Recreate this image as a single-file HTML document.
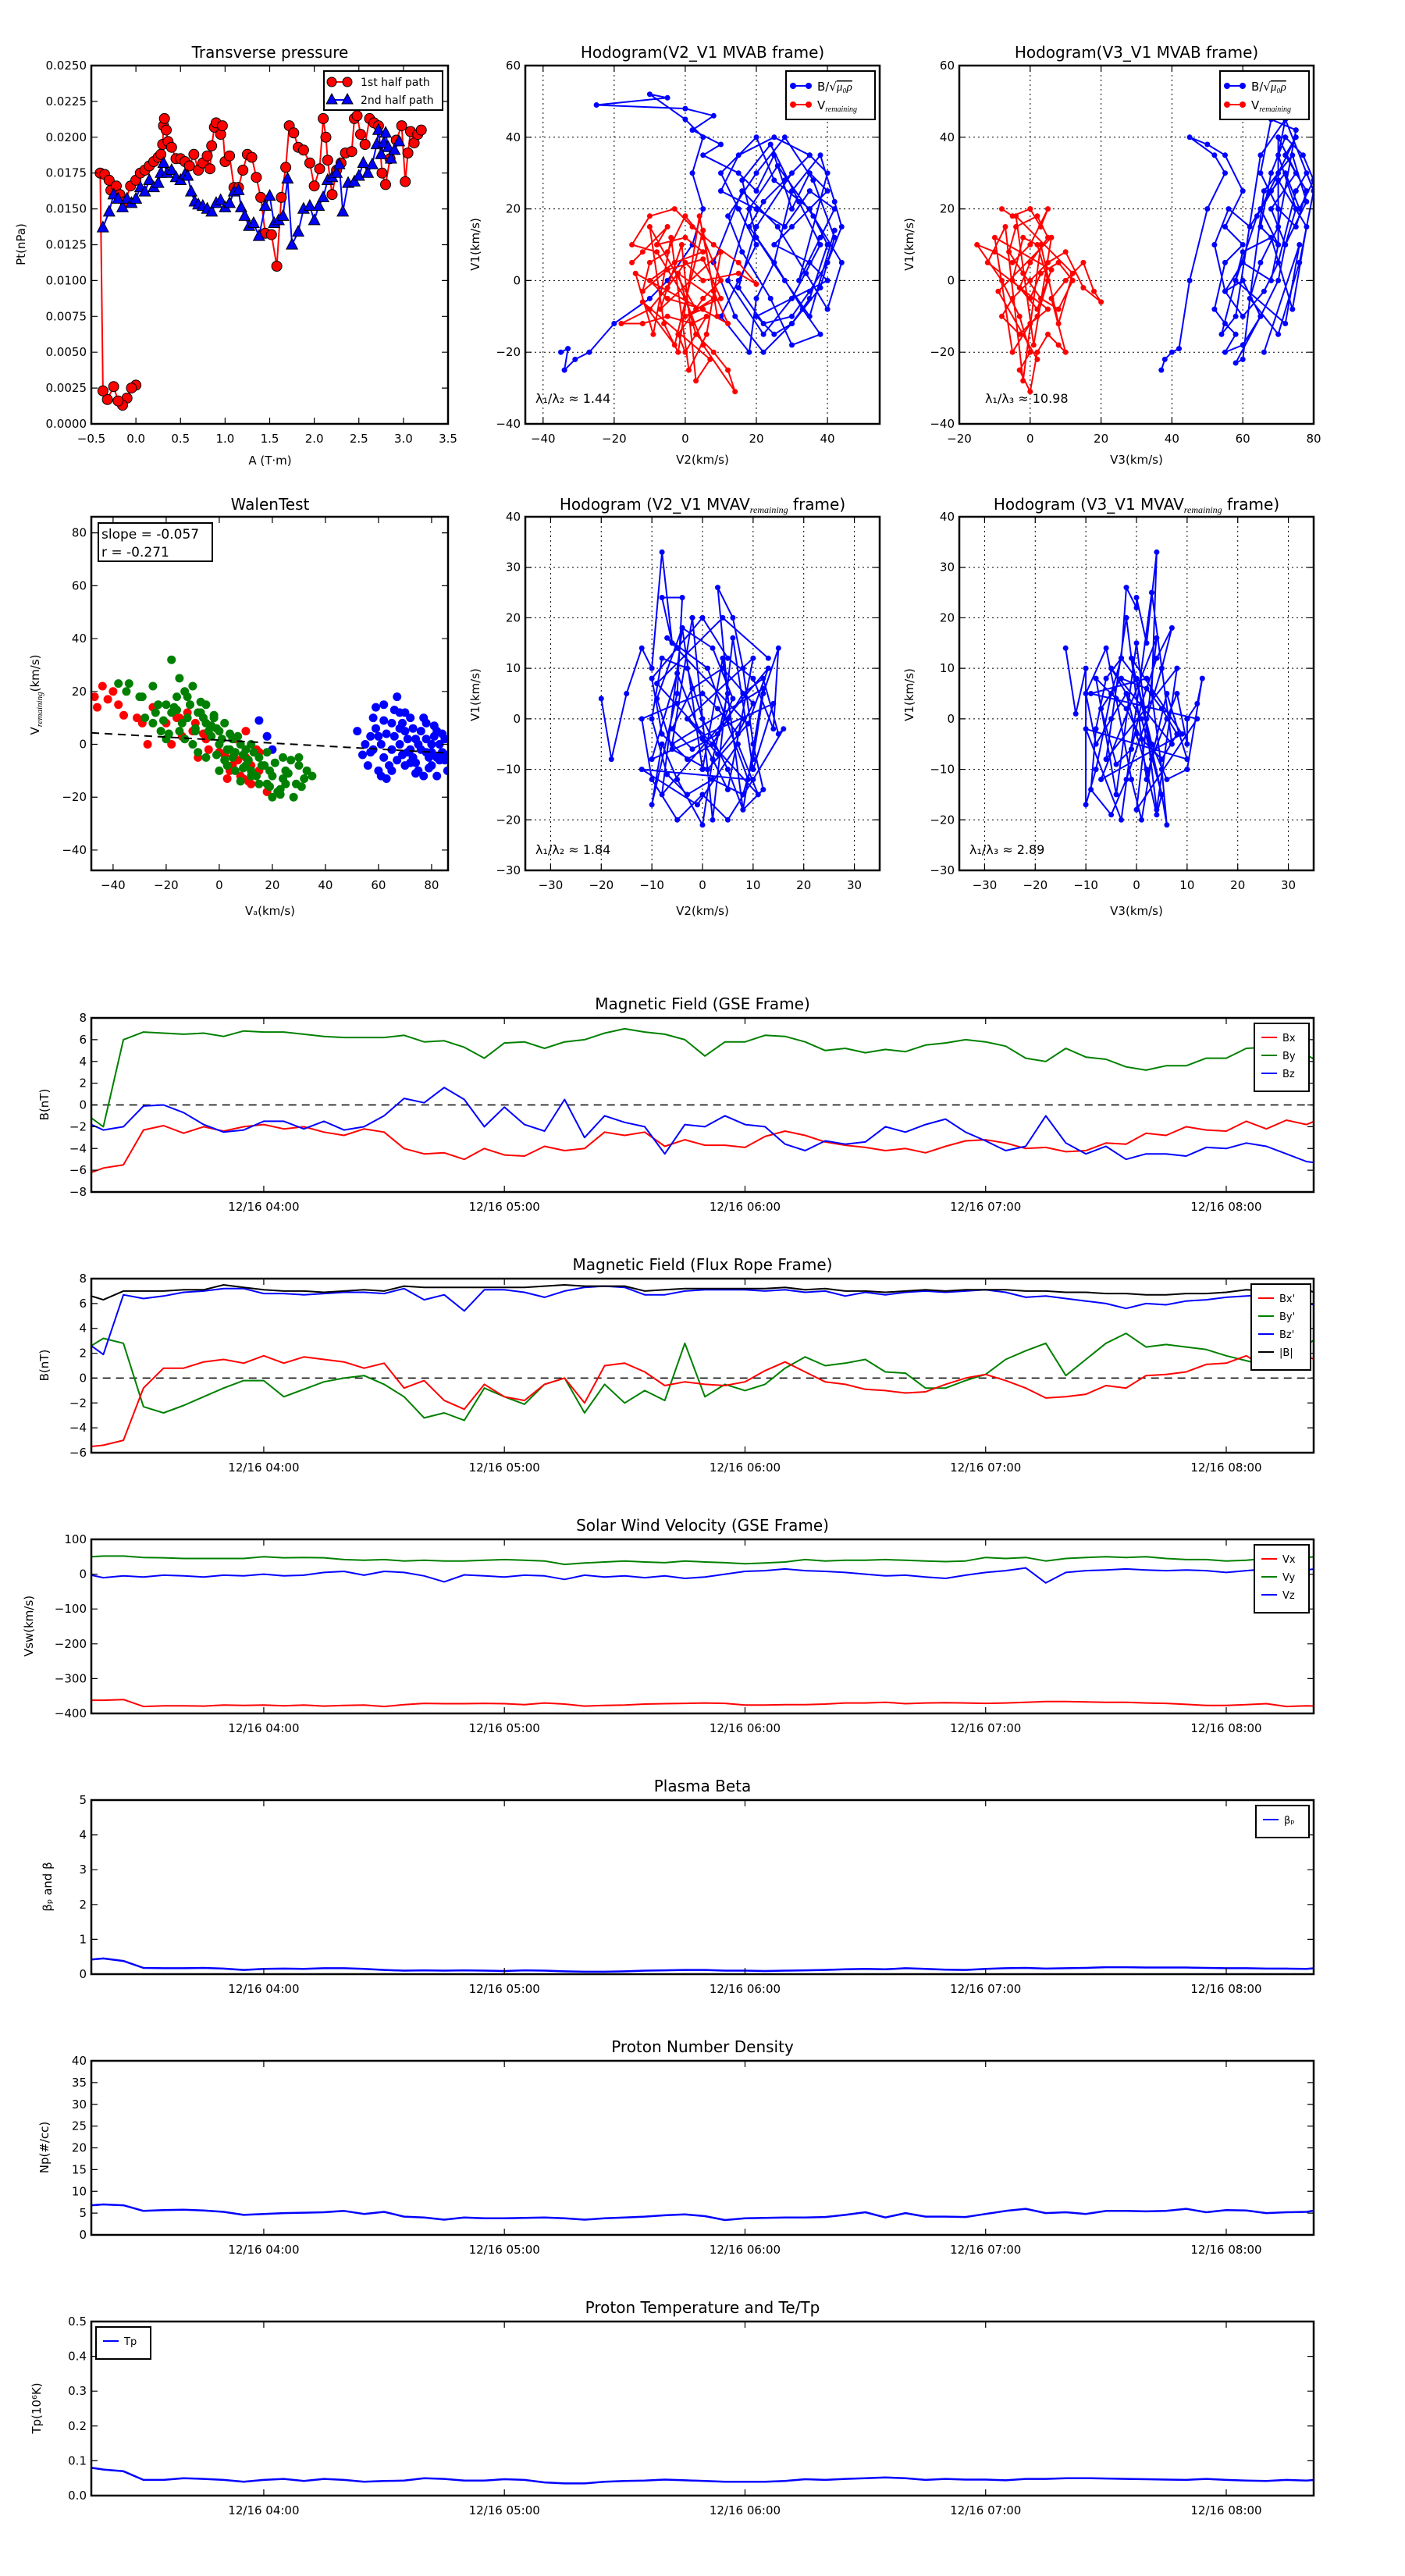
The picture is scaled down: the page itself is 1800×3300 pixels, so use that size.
<!DOCTYPE html>
<html><head><meta charset="utf-8">
<style>
html,body{margin:0;padding:0;background:#fff;}
svg{display:block;font-family:"DejaVu Sans","Liberation Sans",sans-serif;}
</style></head>
<body>
<svg id="fig" xmlns="http://www.w3.org/2000/svg" width="1800" height="3300" viewBox="0 0 1800 3300"></svg>
<script>
// ---------- Transverse pressure ----------
const ptRedA = [0.0,-0.05,-0.1,-0.15,-0.2,-0.25,-0.32,-0.37,-0.4,-0.35,-0.3,-0.28,-0.22,-0.18,-0.12,-0.06,0.0,0.05,0.1,0.15,0.2,0.25,0.28,0.3,0.31,0.32,0.34,0.36,0.4,0.45,0.5,0.55,0.6,0.65,0.7,0.75,0.8,0.83,0.85,0.88,0.9,0.95,0.97,1.0,1.05,1.1,1.15,1.2,1.25,1.3,1.35,1.4,1.45,1.52,1.58,1.63,1.68,1.72,1.77,1.82,1.88,1.95,2.0,2.06,2.1,2.13,2.15,2.2,2.25,2.3,2.35,2.42,2.45,2.48,2.52,2.57,2.62,2.67,2.72,2.76,2.8,2.85,2.92,2.98,3.02,3.05,3.08,3.12,3.16,3.2];
const ptRedP = [0.0027,0.0025,0.0018,0.0013,0.0016,0.0026,0.0017,0.0023,0.0175,0.0174,0.017,0.0163,0.0166,0.016,0.0155,0.0166,0.017,0.0175,0.0177,0.018,0.0183,0.0186,0.0188,0.0195,0.0208,0.0213,0.0205,0.0197,0.0193,0.0185,0.0185,0.0183,0.018,0.0188,0.0177,0.0182,0.0187,0.0178,0.0194,0.0207,0.021,0.0202,0.0208,0.0183,0.0187,0.0165,0.0165,0.0177,0.0188,0.0186,0.0172,0.0158,0.0133,0.0132,0.011,0.0158,0.0179,0.0208,0.0203,0.0193,0.0191,0.0182,0.0166,0.0178,0.0213,0.02,0.0184,0.016,0.0177,0.0182,0.0189,0.019,0.0213,0.0215,0.0202,0.0195,0.0213,0.021,0.0208,0.0175,0.0167,0.0185,0.0198,0.0208,0.0169,0.0189,0.0204,0.0196,0.0202,0.0205];
const ptBlueA = [-0.37,-0.3,-0.25,-0.2,-0.15,-0.1,-0.05,0.0,0.05,0.1,0.15,0.2,0.25,0.28,0.31,0.35,0.4,0.45,0.5,0.55,0.58,0.62,0.66,0.7,0.75,0.8,0.85,0.9,0.95,1.0,1.05,1.1,1.15,1.18,1.22,1.27,1.32,1.38,1.45,1.5,1.55,1.6,1.65,1.7,1.75,1.82,1.88,1.95,2.0,2.05,2.1,2.15,2.2,2.25,2.28,2.32,2.38,2.45,2.5,2.55,2.6,2.65,2.7,2.72,2.75,2.78,2.8,2.83,2.86,2.9,2.95];
const ptBlueP = [0.0137,0.0148,0.016,0.0157,0.0151,0.0157,0.0154,0.0157,0.0165,0.0162,0.017,0.0165,0.0168,0.0175,0.0182,0.0175,0.0177,0.0172,0.017,0.0174,0.0173,0.0162,0.0155,0.0153,0.0152,0.015,0.0148,0.0154,0.0156,0.0151,0.0154,0.0162,0.0163,0.0151,0.0145,0.0138,0.014,0.0131,0.0152,0.0159,0.014,0.0142,0.0145,0.0171,0.0125,0.0134,0.015,0.0152,0.0142,0.0152,0.0158,0.017,0.0172,0.0175,0.0181,0.0148,0.0168,0.0169,0.0173,0.0182,0.0175,0.0181,0.0195,0.0205,0.0188,0.0196,0.0203,0.0193,0.0185,0.0191,0.0197];

// ---------- Hodogram V2_V1 MVAB ----------
const h1BlueX = [-35,-33,-34,-31,-27,-20,-10,-5,2,5,2,5,0,-10,-5,-25,0,8,2,10,5,15,20,25,30,35,40,30,25,35,40,30,20,25,30,35,40,35,25,20,10,15,20,15,10,18,20,25,30,38,42,44,40,35,30,22,15,20,30,35,25,15,10,20,28,35,42,38,32,40,35,28,22,18,25,33,38,30,24,16,12,20,28,36,42,38,30,22,14,8,16,26,34,40,44,36,26,18,12,22,30,38,32,24,16,20,28,35,42];
const h1BlueY = [-20,-19,-25,-22,-20,-12,-5,0,10,20,30,40,45,52,51,49,48,46,42,38,35,30,25,35,20,30,25,15,10,5,0,-5,-10,-15,-12,-5,10,20,28,40,30,20,10,0,-10,-20,-5,5,25,35,22,15,5,-3,-10,-12,-2,15,30,35,40,35,25,20,15,25,20,12,0,30,35,28,22,15,5,-8,-15,-18,-5,8,18,30,40,28,12,-2,-12,-20,-10,5,25,15,2,-8,5,18,32,20,0,-15,-5,10,22,38,28,12,0,-10,14];
const h1RedX = [-15,-12,-5,-8,0,5,-3,-10,-5,5,0,8,-2,3,8,12,14,5,0,-8,-15,-10,-3,2,8,15,20,15,5,0,-5,-10,-18,-12,-5,2,6,0,-2,5,10,5,0,-5,-10,-12,-5,5,10,3,-10,-6,-2,4,8,12,-14,-9,-4,1,6,10,-7,-1,3,7,-12,-3,5,9];
const h1RedY = [5,8,15,10,12,8,5,0,-5,-8,-10,-5,2,-15,-20,-25,-31,-18,-5,8,10,18,20,15,10,5,-1,2,0,5,-2,-8,-12,-12,-10,-12,-10,-20,-15,-5,0,12,18,8,5,-3,3,6,-5,-8,15,-12,-20,18,-3,-12,2,-15,12,-25,-15,8,-8,10,-28,-22,-6,-18,14,-10];

// ---------- Hodogram V3_V1 MVAB ----------
const h2BlueX = [37,38,40,42,45,50,55,52,45,50,55,60,55,60,55,52,55,58,55,60,65,60,55,60,68,70,65,70,75,72,78,75,70,65,68,75,70,65,62,60,58,65,70,72,75,70,72,78,75,70,66,60,55,52,56,62,68,72,76,80,77,72,68,65,70,70,75,68,72,78,74,66,62,70,76,80,72,65,58,54,60,68,74,78,70,64,58,72,76,66];
const h2BlueY = [-25,-22,-20,-19,0,20,30,35,40,38,35,25,15,10,5,-8,-12,-15,-20,-18,-10,0,-3,5,0,10,20,30,40,35,25,15,20,30,45,42,15,5,-5,-22,-23,-10,0,10,20,35,45,30,25,5,-3,-10,-3,10,20,15,25,30,20,28,35,40,30,15,10,40,30,20,10,22,35,25,-5,-15,5,25,45,35,-10,-15,8,12,-8,15,28,18,0,-12,10,-20];
const h2RedX = [-8,-5,0,3,5,0,-5,-10,-15,-8,-3,0,-3,0,2,5,8,10,6,10,15,18,20,15,10,5,0,-5,-8,-3,2,5,2,-2,-5,0,3,8,12,8,3,-2,-6,-4,2,5,0,-3,2,6,-10,-5,0,5,-12,-7,-2,3,8,12,-4,1,6,-9,2];
const h2RedY = [20,18,20,15,20,10,5,8,10,0,-10,-20,-25,-31,-20,-15,-18,-20,-5,0,5,-3,-6,-2,8,5,0,-5,-10,-15,-10,0,10,12,0,-5,2,5,0,-8,-5,2,8,15,18,12,5,-2,-8,3,12,-20,-12,-8,5,15,-28,10,-12,2,18,-18,12,-3,-22];

// ---------- Walen test ----------
const walenSlope = -0.057;
const walenIntercept = 1.6;
const wRedX = [-47,-46,-44,-42,-40,-38,-36,-31,-29,-27,-20,-15,-10,-5,0,3,5,8,10,12,15,18,10,-25,-18,-8,14,-12,-3,7,-14,-9,-4,2,6,9,12,15,-16,-6,4,11];
const wRedY = [18,14,22,17,20,15,11,10,8,0,8,10,5,2,-3,-13,-8,-12,-5,-15,-10,-18,5,14,0,-5,-2,12,7,-6,3,8,-2,-4,2,-13,-8,-3,10,4,-10,-14];
const wGreenX = [-25,-20,-18,-15,-12,-10,-8,-5,-2,0,2,5,-22,-28,-15,-10,-5,0,5,10,15,20,25,30,35,28,22,18,12,8,3,-3,-12,-18,-30,-35,-8,0,6,15,25,30,20,10,-20,-25,-5,2,17,12,-38,-34,-29,-13,-7,4,9,23,27,32,-16,-2,-24,-21,-17,-14,-11,-9,-6,-4,-1,1,4,7,9,11,13,16,19,21,24,26,29,-19,-13,-7,-3,3,8,14,19,23,-23,-16,-9,-1,6,12,18,24,31,33];
const wGreenY = [22,15,32,25,18,22,12,15,10,5,8,2,5,10,5,0,-5,-10,-5,-8,-5,-12,-10,-8,-12,-20,-18,-15,-10,0,-2,3,10,12,18,20,-3,0,-3,-15,-15,-5,-20,-2,2,8,8,-6,-8,-12,23,23,18,20,16,4,-9,-17,-6,-13,13,11,12,9,14,8,15,6,10,5,6,2,-2,3,-4,-6,-3,-8,-10,-7,-13,-11,-15,4,2,12,7,-8,-14,-12,-16,-19,15,18,5,-4,-10,0,-3,-5,-16,-10];
const wBlueX = [52,55,58,60,62,62,65,65,67,68,70,70,72,72,74,75,76,78,78,80,80,82,82,84,85,86,60,57,63,68,73,77,66,71,79,83,64,69,74,81,85,59,61,75,15,18,20,54,56,59,61,63,66,67,69,71,73,76,77,79,81,83,84,86,58,62,65,70,74,78,82,57,68,72,80];
const wBlueY = [5,0,10,3,-5,15,8,-2,18,0,5,-8,10,-2,2,-10,5,-3,8,0,-8,-12,5,-3,2,-10,-10,-3,-13,12,-5,-12,3,2,-5,0,-8,-4,-7,3,-6,6,0,0,9,3,-2,-4,-8,14,-12,4,13,-6,8,-3,6,-2,10,-9,7,-6,4,-4,-2,9,-10,12,-11,2,-5,3,6,-7,-3];

// ---------- MVAV hodograms ----------
const h3X = [-20,-18,-15,-12,-10,-8,-6,-8,-4,-5,-10,-8,-5,0,2,5,3,6,8,10,12,8,5,0,-3,-8,-10,-7,-3,2,8,10,12,15,14,10,5,0,-5,-10,-8,-3,2,5,8,12,15,16,10,5,0,-5,-10,-12,-5,0,3,7,10,4,-2,-6,-2,3,6,2,-4,-9,-6,1,9,13,-8,-4,0,4,8,12,-6,-2,2,6,10,14,-10,-5,0,5,10,-3,3,8,-7,1,9,-12,-1,7,11,-9,4,13];
const h3Y = [4,-8,5,14,10,33,15,24,24,5,-17,-5,-12,-21,-8,5,26,20,10,-5,-14,-18,-10,0,10,12,0,-11,-15,-12,-15,-8,5,14,-2,8,12,20,14,8,-3,-8,-5,0,5,8,-3,-2,-12,-20,-15,-20,-12,0,3,5,2,-3,3,10,6,-2,-6,-3,4,14,18,4,-6,-10,-1,10,-15,18,-10,12,-18,6,-5,20,-20,16,-10,3,-8,9,-4,-14,12,0,-7,0,16,10,-12,-10,-17,-5,-15,7,20,12];
const h4X = [-14,-12,-10,-10,-8,-5,-3,-2,0,0,2,4,3,5,6,5,4,2,0,-2,-5,-8,-10,-6,-4,-1,1,3,6,8,10,10,12,13,10,6,3,0,-3,-6,-8,-9,-5,-2,2,5,7,4,1,-1,-4,-7,-3,2,5,8,5,1,-2,-8,-4,0,4,8,-6,-2,2,6,10,-10,-3,3,7,-5,1,5,-1,9,-7,4,0,12,-9,2];
const h4Y = [14,1,10,-17,-10,5,12,26,22,24,15,33,5,-10,-21,-15,-19,-10,-3,5,0,-5,5,14,4,-12,-20,-8,0,5,-5,0,3,8,-10,-12,-5,8,12,8,-2,-14,-19,-12,0,10,18,12,3,-6,-9,2,8,6,2,-3,-8,-4,2,8,-15,15,-18,10,-8,20,-12,5,-8,-2,-20,25,-5,10,0,-15,12,-3,-12,16,-18,0,5,8];

// ---------- Time series (5-min grid; first = 03:17, last = 08:22) ----------
const gseBx = [-6.2, -5.8,-5.5,-2.3,-1.9,-2.6,-2.0,-2.4,-2.0, -1.8,-2.2,-2.0,-2.5,-2.8,-2.2,-2.5,-4.0,-4.5,-4.4,-5.0,-4.0, -4.6,-4.7,-3.8,-4.2,-4.0,-2.5,-2.8,-2.5,-3.8,-3.2,-3.7,-3.7, -3.9,-2.9,-2.4,-2.8,-3.4,-3.7,-3.9,-4.2,-4.0,-4.4,-3.8,-3.3, -3.2,-3.5,-4.0,-3.9,-4.3,-4.2,-3.5,-3.6,-2.6,-2.8,-2.0,-2.3, -2.4,-1.5,-2.2,-1.4,-1.8, -1.5];
const gseBy = [-1.2, -2.0,6.0,6.7,6.6,6.5,6.6,6.3,6.8, 6.7,6.7,6.5,6.3,6.2,6.2,6.2,6.4,5.8,5.9,5.3,4.3, 5.7,5.8,5.2,5.8,6.0,6.6,7.0,6.7,6.5,6.0,4.5,5.8, 5.8,6.4,6.3,5.8,5.0,5.2,4.8,5.1,4.9,5.5,5.7,6.0, 5.8,5.4,4.3,4.0,5.2,4.4,4.2,3.5,3.2,3.6,3.6,4.3, 4.3,5.2,5.3,5.9,4.6, 4.2];
const gseBz = [-1.8, -2.3,-2.0,-0.1,0.0,-0.7,-1.8,-2.5,-2.3, -1.5,-1.5,-2.2,-1.5,-2.3,-2.0,-1.0,0.6,0.2,1.6,0.5,-2.0, -0.2,-1.8,-2.4,0.5,-3.0,-1.0,-1.6,-2.0,-4.5,-1.8,-2.0,-1.0, -1.8,-2.0,-3.6,-4.2,-3.3,-3.6,-3.4,-2.0,-2.5,-1.8,-1.3,-2.5, -3.3,-4.2,-3.8,-1.0,-3.5,-4.5,-3.8,-5.0,-4.5,-4.5,-4.7,-3.9, -4.0,-3.5,-3.8,-4.5,-5.2, -5.3];
const frBx = [-5.5, -5.4,-5.0,-0.8,0.8,0.8,1.3,1.5,1.2, 1.8,1.2,1.7,1.5,1.3,0.8,1.2,-0.8,-0.2,-1.8,-2.5,-0.5, -1.5,-1.8,-0.5,0.0,-2.0,1.0,1.2,0.5,-0.6,-0.3,-0.5,-0.6, -0.3,0.6,1.3,0.5,-0.3,-0.5,-0.9,-1.0,-1.2,-1.1,-0.5,0.0, 0.3,-0.2,-0.8,-1.6,-1.5,-1.3,-0.6,-0.8,0.2,0.3,0.5,1.1, 1.2,1.8,0.8,1.5,1.8, 1.5];
const frBy = [2.6, 3.2,2.8,-2.3,-2.8,-2.2,-1.5,-0.8,-0.2, -0.2,-1.5,-0.9,-0.3,0.0,0.2,-0.5,-1.5,-3.2,-2.8,-3.4,-0.8, -1.5,-2.1,-0.5,0.0,-2.8,-0.5,-2.0,-1.0,-1.8,2.8,-1.5,-0.5, -1.0,-0.5,0.8,1.7,1.0,1.2,1.5,0.5,0.4,-0.8,-0.8,-0.2, 0.3,1.5,2.2,2.8,0.2,1.5,2.8,3.6,2.5,2.7,2.5,2.3, 1.8,1.4,1.0,1.9,2.6, 3.1];
const frBz = [2.6, 1.9,6.7,6.4,6.6,6.9,7.0,7.2,7.2, 6.8,6.8,6.7,6.8,6.9,6.9,6.8,7.2,6.3,6.7,5.4,7.1, 7.1,6.9,6.5,7.0,7.3,7.4,7.3,6.7,6.7,7.0,7.1,7.1, 7.1,7.0,7.1,6.9,7.0,6.6,6.9,6.7,6.9,7.0,6.9,7.0, 7.1,6.9,6.5,6.6,6.4,6.2,6.0,5.6,6.0,5.9,6.2,6.3, 6.5,6.6,6.7,6.5,6.0, 5.9];
const frBt = [6.6, 6.3,7.0,7.0,7.0,7.1,7.1,7.5,7.3, 7.1,7.0,7.0,6.9,7.0,7.1,7.0,7.4,7.3,7.3,7.3,7.3, 7.3,7.3,7.4,7.5,7.4,7.4,7.4,7.0,7.1,7.2,7.2,7.2, 7.2,7.2,7.3,7.1,7.2,7.0,7.0,6.9,7.0,7.1,7.0,7.1, 7.1,7.1,7.0,7.0,6.9,6.9,6.8,6.8,6.7,6.7,6.8,6.8, 6.9,7.1,7.0,6.9,7.1, 6.9];
const velVx = [-362, -362,-360,-380,-378,-378,-379,-376,-377, -376,-378,-376,-379,-377,-376,-380,-375,-371,-372,-372,-371, -372,-375,-370,-373,-379,-377,-376,-373,-372,-371,-370,-371, -376,-376,-375,-375,-373,-370,-370,-368,-372,-370,-369,-370, -371,-370,-368,-366,-366,-367,-368,-368,-370,-371,-374,-377, -377,-375,-372,-380,-378, -379];
const velVy = [50, 52,52,48,47,45,45,45,45, 50,47,48,47,42,40,42,38,40,38,38,40, 42,40,38,28,32,35,38,35,33,38,35,33, 30,32,35,42,38,40,40,42,40,38,36,38, 48,45,48,38,45,48,50,48,50,45,42,42, 38,40,45,45,48, 50];
const velVz = [-3, -10,-5,-8,-3,-5,-8,-3,-5, 0,-5,-3,5,8,-3,8,5,-5,-22,-2,-5, -8,-3,-5,-15,-3,-8,-5,-10,-5,-12,-8,0, 8,10,15,10,8,5,0,-5,-3,-8,-12,-3, 5,10,18,-25,5,10,12,15,12,10,12,10, 5,10,15,15,12, 15];
const betaP = [0.42, 0.45,0.38,0.18,0.17,0.17,0.18,0.16,0.12, 0.15,0.16,0.15,0.17,0.17,0.15,0.12,0.10,0.11,0.10,0.11,0.10, 0.09,0.11,0.10,0.08,0.07,0.07,0.08,0.10,0.11,0.12,0.12,0.10, 0.10,0.09,0.10,0.11,0.12,0.14,0.15,0.14,0.17,0.15,0.13,0.12, 0.15,0.17,0.18,0.16,0.17,0.18,0.20,0.20,0.19,0.19,0.19,0.18, 0.17,0.17,0.16,0.16,0.15, 0.17];
const densNp = [6.8, 7.0,6.8,5.5,5.7,5.8,5.6,5.3,4.6, 4.8,5.0,5.1,5.2,5.5,4.8,5.3,4.2,4.0,3.5,4.0,3.8, 3.8,3.9,4.0,3.8,3.5,3.8,4.0,4.2,4.5,4.7,4.3,3.4, 3.8,3.9,4.0,4.0,4.1,4.6,5.2,4.0,5.0,4.2,4.2,4.1, 4.8,5.5,6.0,5.0,5.2,4.8,5.5,5.5,5.4,5.5,6.0,5.2, 5.7,5.6,5.0,5.2,5.3, 5.6];
const tempTp = [0.080, 0.075,0.070,0.045,0.045,0.050,0.048,0.045,0.040, 0.045,0.048,0.042,0.048,0.045,0.040,0.042,0.043,0.050,0.048,0.043,0.043, 0.047,0.045,0.038,0.035,0.035,0.040,0.042,0.043,0.046,0.044,0.042,0.040, 0.040,0.040,0.042,0.047,0.045,0.048,0.050,0.052,0.050,0.045,0.048,0.046, 0.046,0.044,0.048,0.048,0.050,0.050,0.049,0.048,0.047,0.046,0.045,0.048, 0.045,0.043,0.042,0.045,0.043, 0.045];
const timeTickMinutes = [60,120,180,240,300];
const timeTickLabels = ["12/16 04:00","12/16 05:00","12/16 06:00","12/16 07:00","12/16 08:00"];

const NS = "http://www.w3.org/2000/svg";
const svg = document.getElementById('fig');
function mk(tag, parent){ const e = document.createElementNS(NS, tag); parent.appendChild(e); return e; }
function fmt(v, d){ const s = v.toFixed(d); return s.replace('-', '\u2212'); }
let clipId = 0;

function panel(name, L, T, R, B, xd, yd){
  const g = mk('g', svg);
  
  
  const cid = 'clip' + (clipId++);
  const cp = mk('clipPath', g); cp.setAttribute('id', cid);
  const cr = mk('rect', cp); cr.setAttribute('x', L); cr.setAttribute('y', T); cr.setAttribute('width', R - L); cr.setAttribute('height', B - T);
  const data = mk('g', g); data.setAttribute('clip-path', 'url(#' + cid + ')');
  
  
  return {g, data, L, T, R, B,
    sx: v => L + (v - xd[0]) / (xd[1] - xd[0]) * (R - L),
    sy: v => B - (v - yd[0]) / (yd[1] - yd[0]) * (B - T)};
}
function txt(parent, x, y, s, size, anchor){
  const t = mk('text', parent);
  t.setAttribute('x', x); t.setAttribute('y', y);
  t.setAttribute('font-size', size); t.setAttribute('text-anchor', anchor || 'middle');
  t.textContent = s; return t;
}
function axes(P, xt, xl, yt, yl, grid){
  const g = P.g;
  for (let i = 0; i < xt.length; i++){
    const x = P.sx(xt[i]);
    if (grid){ const gl = mk('line', P.data); gl.setAttribute('x1', x); gl.setAttribute('x2', x); gl.setAttribute('y1', P.T); gl.setAttribute('y2', P.B); gl.setAttribute('stroke', '#000'); gl.setAttribute('stroke-width', 1); gl.setAttribute('stroke-dasharray', '2,4');
        }
    const tk = mk('path', g); tk.setAttribute('d', `M${x},${P.B}v-8M${x},${P.T}v8`); tk.setAttribute('stroke', '#000'); tk.setAttribute('stroke-width', 1.2);
     
    const lb = txt(g, x, P.B + 24, xl[i], 15);
     
  }
  for (let i = 0; i < yt.length; i++){
    const y = P.sy(yt[i]);
    if (grid){ const gl = mk('line', P.data); gl.setAttribute('x1', P.L); gl.setAttribute('x2', P.R); gl.setAttribute('y1', y); gl.setAttribute('y2', y); gl.setAttribute('stroke', '#000'); gl.setAttribute('stroke-width', 1); gl.setAttribute('stroke-dasharray', '2,4');
        }
    const tk = mk('path', g); tk.setAttribute('d', `M${P.L},${y}h8M${P.R},${y}h-8`); tk.setAttribute('stroke', '#000'); tk.setAttribute('stroke-width', 1.2);
     
    const lb = txt(g, P.L - 6, y + 5, yl[i], 15, 'end');
     
  }
}
function frame(P){
  const r = mk('rect', P.g); r.setAttribute('x', P.L); r.setAttribute('y', P.T); r.setAttribute('width', P.R - P.L); r.setAttribute('height', P.B - P.T);
  r.setAttribute('fill', 'none'); r.setAttribute('stroke', '#000'); r.setAttribute('stroke-width', 2.5);
   
}
function title(P, x, y, s){ const t = txt(P.g, x, y, s, 20);   return t; }
function ylab(P, x, y, s){ const t = txt(P.g, x, y, s, 15); t.setAttribute('transform', `rotate(-90 ${x} ${y})`);   return t; }
function xlab(P, x, y, s){ const t = txt(P.g, x, y, s, 15);   return t; }
function polyline(P, xs, ys, color, w, name){
  const pl = mk('polyline', P.data);
  pl.setAttribute('points', xs.map((x, i) => P.sx(x).toFixed(1) + ',' + P.sy(ys[i]).toFixed(1)).join(' '));
  pl.setAttribute('fill', 'none'); pl.setAttribute('stroke', color); pl.setAttribute('stroke-width', w); pl.setAttribute('stroke-linejoin', 'round');
   
  return pl;
}
function dots(P, xs, ys, color, r, name, stroke){
  const g = mk('g', P.data);
   
  for (let i = 0; i < xs.length; i++){
    const c = mk('circle', g); c.setAttribute('cx', P.sx(xs[i]).toFixed(1)); c.setAttribute('cy', P.sy(ys[i]).toFixed(1)); c.setAttribute('r', r); c.setAttribute('fill', color);
    if (stroke){ c.setAttribute('stroke', stroke); c.setAttribute('stroke-width', 1); }
     
  }
}
function tris(P, xs, ys, color, s, name){
  const g = mk('g', P.data);
   
  for (let i = 0; i < xs.length; i++){
    const x = P.sx(xs[i]), y = P.sy(ys[i]);
    const t = mk('path', g); t.setAttribute('d', `M${x},${y - s}L${x + s * 0.9},${y + s * 0.7}L${x - s * 0.9},${y + s * 0.7}Z`);
    t.setAttribute('fill', color); t.setAttribute('stroke', '#000'); t.setAttribute('stroke-width', 1);
     
  }
}
function box(P, x, y, w, h, name){
  const r = mk('rect', P.g); r.setAttribute('x', x); r.setAttribute('y', y); r.setAttribute('width', w); r.setAttribute('height', h);
  r.setAttribute('fill', '#fff'); r.setAttribute('stroke', '#000'); r.setAttribute('stroke-width', 2);
   
  return r;
}
function range(a, b, s){ const o = []; for (let v = a; v <= b + 1e-9; v += s) o.push(+v.toFixed(6)); return o; }

// ===== Panel 1: Transverse pressure =====
{
  const P = panel('transverse-pressure-chart', 117, 84, 574, 543, [-0.5, 3.5], [0, 0.025]);
  const xt = range(-0.5, 3.5, 0.5), yt = range(0, 0.025, 0.0025);
  axes(P, xt, xt.map(v => fmt(v, 1)), yt, yt.map(v => fmt(v, 4)), false);
  polyline(P, ptRedA, ptRedP, '#f00', 2, 'first-half-path-line');
  polyline(P, ptBlueA, ptBlueP, '#00f', 2, 'second-half-path-line');
  dots(P, ptRedA, ptRedP, '#f00', 6.5, 'first-half-path', '#000');
  tris(P, ptBlueA, ptBlueP, '#00f', 8, 'second-half-path');
  frame(P);
  title(P, 346, 74, 'Transverse pressure');
  xlab(P, 346, 595, 'A (T\u00b7m)');
  ylab(P, 32, 313, 'Pt(nPa)');
  box(P, 415, 91, 152, 50, 'pressure-legend');
  const ll = mk('g', P.g);  
  const l1 = mk('path', ll); l1.setAttribute('d', 'M425,105h20'); l1.setAttribute('stroke', '#f00'); l1.setAttribute('stroke-width', 2);
  for (const cx of [425, 445]){ const c = mk('circle', ll); c.setAttribute('cx', cx); c.setAttribute('cy', 105); c.setAttribute('r', 6); c.setAttribute('fill', '#f00'); c.setAttribute('stroke', '#000'); }
  txt(ll, 462, 110, '1st half path', 14, 'start');
  const l2 = mk('path', ll); l2.setAttribute('d', 'M425,128h20'); l2.setAttribute('stroke', '#00f'); l2.setAttribute('stroke-width', 2);
  for (const cx of [425, 445]){ const t = mk('path', ll); t.setAttribute('d', `M${cx},${120}L${cx + 7},${133}L${cx - 7},${133}Z`); t.setAttribute('fill', '#00f'); t.setAttribute('stroke', '#000'); }
  txt(ll, 462, 133, '2nd half path', 14, 'start');
}

function hodoLegend(P, x, name){
  box(P, x, 91, 114, 62, name);
  const ll = mk('g', P.g);  
  const a = mk('path', ll); a.setAttribute('d', `M${x + 9},110h20`); a.setAttribute('stroke', '#00f'); a.setAttribute('stroke-width', 2);
  for (const cx of [x + 9, x + 29]){ const c = mk('circle', ll); c.setAttribute('cx', cx); c.setAttribute('cy', 110); c.setAttribute('r', 4); c.setAttribute('fill', '#00f'); }
  const t1 = txt(ll, x + 40, 116, 'B/\u221a', 15, 'start');
  const ts = mk('tspan', t1); ts.setAttribute('font-style', 'italic'); ts.setAttribute('font-family', 'Liberation Serif, serif'); ts.setAttribute('text-decoration', 'overline'); ts.textContent = '\u03bc\u2080\u03c1';
  const b = mk('path', ll); b.setAttribute('d', `M${x + 9},134h20`); b.setAttribute('stroke', '#f00'); b.setAttribute('stroke-width', 2);
  for (const cx of [x + 9, x + 29]){ const c = mk('circle', ll); c.setAttribute('cx', cx); c.setAttribute('cy', 134); c.setAttribute('r', 4); c.setAttribute('fill', '#f00'); }
  const t2 = txt(ll, x + 40, 140, 'V', 15, 'start');
  const s2 = mk('tspan', t2); s2.setAttribute('font-size', 10); s2.setAttribute('font-style', 'italic'); s2.setAttribute('font-family', 'Liberation Serif, serif'); s2.setAttribute('dy', 3); s2.textContent = 'remaining';
}

// ===== Panel 2 =====
{
  const P = panel('hodogram-v2-v1-mvab', 673, 84, 1127, 543, [-45, 54.7], [-40, 60]);
  const xt = range(-40, 40, 20), yt = range(-40, 60, 20);
  axes(P, xt, xt.map(v => fmt(v, 0)), yt, yt.map(v => fmt(v, 0)), true);
  polyline(P, h1BlueX, h1BlueY, '#00f', 2, 'b-normalized-path');
  dots(P, h1BlueX, h1BlueY, '#00f', 3.5, 'b-normalized');
  polyline(P, h1RedX, h1RedY, '#f00', 2, 'v-remaining-path');
  dots(P, h1RedX, h1RedY, '#f00', 3.5, 'v-remaining');
  frame(P);
  title(P, 900, 74, 'Hodogram(V2_V1 MVAB frame)');
  xlab(P, 900, 594, 'V2(km/s)');
  ylab(P, 614, 313, 'V1(km/s)');
  const t = txt(P.g, 686, 516, '\u03bb\u2081/\u03bb\u2082 \u2248 1.44', 16, 'start');  
  hodoLegend(P, 1007, 'hodogram1-legend');
}
// ===== Panel 3 =====
{
  const P = panel('hodogram-v3-v1-mvab', 1229, 84, 1683, 543, [-20, 80], [-40, 60]);
  const xt = range(-20, 80, 20), yt = range(-40, 60, 20);
  axes(P, xt, xt.map(v => fmt(v, 0)), yt, yt.map(v => fmt(v, 0)), true);
  polyline(P, h2BlueX, h2BlueY, '#00f', 2, 'b-normalized-path');
  dots(P, h2BlueX, h2BlueY, '#00f', 3.5, 'b-normalized');
  polyline(P, h2RedX, h2RedY, '#f00', 2, 'v-remaining-path');
  dots(P, h2RedX, h2RedY, '#f00', 3.5, 'v-remaining');
  frame(P);
  title(P, 1456, 74, 'Hodogram(V3_V1 MVAB frame)');
  xlab(P, 1456, 594, 'V3(km/s)');
  ylab(P, 1170, 313, 'V1(km/s)');
  const t = txt(P.g, 1262, 516, '\u03bb\u2081/\u03bb\u2083 \u2248 10.98', 16, 'start');  
  hodoLegend(P, 1563, 'hodogram2-legend');
}
// ===== Walen test =====
{
  const P = panel('walen-test-chart', 117, 662, 574, 1115, [-48.2, 86.2], [-47.7, 86.1]);
  const xt = range(-40, 80, 20), yt = range(-40, 80, 20);
  axes(P, xt, xt.map(v => fmt(v, 0)), yt, yt.map(v => fmt(v, 0)), false);
  dots(P, wBlueX, wBlueY, '#00f', 5.5, 'walen-blue');
  dots(P, wRedX, wRedY, '#f00', 5.5, 'walen-red');
  dots(P, wGreenX, wGreenY, '#008000', 5.5, 'walen-green');
  const fx = [-48.2, 86.2];
  const fl = polyline(P, fx, fx.map(x => walenSlope * x + walenIntercept), '#000', 2, 'fit-line');
  fl.setAttribute('stroke-dasharray', '10,7');
  frame(P);
  title(P, 346, 653, 'WalenTest');
  xlab(P, 346, 1172, 'V\u2090(km/s)');
  const yl = ylab(P, 50, 890, 'V');
  const ys = mk('tspan', yl); ys.setAttribute('font-size', 11); ys.setAttribute('font-style', 'italic'); ys.setAttribute('font-family', 'Liberation Serif, serif'); ys.setAttribute('dy', 4); ys.textContent = 'remaining';
  const ys2 = mk('tspan', yl); ys2.setAttribute('dy', -4); ys2.textContent = '(km/s)';
  box(P, 126, 670, 146, 49, 'fit-stats-box');
  const t1 = txt(P.g, 130, 690, 'slope = -0.057', 17, 'start');  
  const t2 = txt(P.g, 130, 713, 'r = -0.271', 17, 'start');  
}
// ===== MVAV hodograms =====
function mvav(name, L, hx, hy, label, ratio, ttl){
  const P = panel(name, L, 662, L + 454, 1115, [-35, 35], [-30, 40]);
  const xt = range(-30, 30, 10), yt = range(-30, 40, 10);
  axes(P, xt, xt.map(v => fmt(v, 0)), yt, yt.map(v => fmt(v, 0)), true);
  polyline(P, hx, hy, '#00f', 2, 'hodogram-path');
  dots(P, hx, hy, '#00f', 3.5, 'hodogram');
  frame(P);
  const t = title(P, L + 227, 653, ttl[0]);
  const s = mk('tspan', t); s.setAttribute('font-size', 12); s.setAttribute('font-style', 'italic'); s.setAttribute('font-family', 'Liberation Serif, serif'); s.setAttribute('dy', 4); s.textContent = 'remaining';
  const s2 = mk('tspan', t); s2.setAttribute('dy', -4); s2.textContent = ' frame)';
  xlab(P, L + 227, 1172, label);
  ylab(P, L - 59, 890, 'V1(km/s)');
  const r = txt(P.g, L + 13, 1094, ratio, 16, 'start');  
}
mvav('hodogram-v2-v1-mvav', 673, h3X, h3Y, 'V2(km/s)', '\u03bb\u2081/\u03bb\u2082 \u2248 1.84', ['Hodogram (V2_V1 MVAV']);
mvav('hodogram-v3-v1-mvav', 1229, h4X, h4Y, 'V3(km/s)', '\u03bb\u2081/\u03bb\u2083 \u2248 2.89', ['Hodogram (V3_V1 MVAV']);

// ===== time series =====
const tGrid = [17];
for (let m = 20; m <= 320; m += 5) tGrid.push(m);
tGrid.push(322);
function tsPanel(name, T, yd, yt, yl, ttl, ylabel, ylx){
  const P = panel(name, 117, T, 1683, T + 223, [17.0, 321.8], yd);
  axes(P, timeTickMinutes, timeTickLabels, yt, yl, false);
  title(P, 900, T - 11, ttl);
  ylab(P, ylx || 62, T + 111, ylabel);
  return P;
}
function zeroLine(P){ const z = polyline(P, [0, 400], [0, 0], '#000', 1.5, 'zero-line'); z.setAttribute('stroke-dasharray', '10,7'); }
function tsLegend(P, x, y, w, entries, name){
  box(P, x, y, w, 18 + entries.length * 23, name);
  const g = mk('g', P.g);  
  entries.forEach((e, i) => {
    const yy = y + 18 + i * 23;
    const l = mk('path', g); l.setAttribute('d', `M${x + 9},${yy}h20`); l.setAttribute('stroke', e[1]); l.setAttribute('stroke-width', 2);
    txt(g, x + 36, yy + 5, e[0], 13, 'start');
  });
}
{
  const yt = range(-8, 8, 2);
  const P = tsPanel('magnetic-field-gse-chart', 1304, [-8, 8], yt, yt.map(v => fmt(v, 0)), 'Magnetic Field (GSE Frame)', 'B(nT)');
  zeroLine(P);
  polyline(P, tGrid, gseBy, '#008000', 2, 'by-line');
  polyline(P, tGrid, gseBx, '#f00', 2, 'bx-line');
  polyline(P, tGrid, gseBz, '#00f', 2, 'bz-line');
  frame(P);
  tsLegend(P, 1607, 1311, 70, [['Bx', '#f00'], ['By', '#008000'], ['Bz', '#00f']], 'gse-legend');
}
{
  const yt = range(-6, 8, 2);
  const P = tsPanel('magnetic-field-flux-rope-chart', 1638, [-6, 8], yt, yt.map(v => fmt(v, 0)), 'Magnetic Field (Flux Rope Frame)', 'B(nT)');
  zeroLine(P);
  polyline(P, tGrid, frBy, '#008000', 2, 'by-prime-line');
  polyline(P, tGrid, frBx, '#f00', 2, 'bx-prime-line');
  polyline(P, tGrid, frBz, '#00f', 2, 'bz-prime-line');
  polyline(P, tGrid, frBt, '#000', 2, 'b-total-line');
  frame(P);
  tsLegend(P, 1603, 1645, 76, [["Bx'", '#f00'], ["By'", '#008000'], ["Bz'", '#00f'], ['|B|', '#000']], 'flux-rope-legend');
}
{
  const yt = range(-400, 100, 100);
  const P = tsPanel('solar-wind-velocity-chart', 1972, [-400, 100], yt, yt.map(v => fmt(v, 0)), 'Solar Wind Velocity (GSE Frame)', 'Vsw(km/s)', 42);
  polyline(P, tGrid, velVx, '#f00', 2, 'vx-line');
  polyline(P, tGrid, velVy, '#008000', 2, 'vy-line');
  polyline(P, tGrid, velVz, '#00f', 2, 'vz-line');
  frame(P);
  tsLegend(P, 1607, 1979, 70, [['Vx', '#f00'], ['Vy', '#008000'], ['Vz', '#00f']], 'velocity-legend');
}
{
  const yt = range(0, 5, 1);
  const P = tsPanel('plasma-beta-chart', 2306, [0, 5], yt, yt.map(v => fmt(v, 0)), 'Plasma Beta', '\u03b2\u209a and \u03b2', 66);
  polyline(P, tGrid, betaP, '#00f', 2.5, 'beta-line');
  frame(P);
  tsLegend(P, 1609, 2313, 68, [['\u03b2\u209a', '#00f']], 'beta-legend');
}
{
  const yt = range(0, 40, 5);
  const P = tsPanel('proton-density-chart', 2640, [0, 40], yt, yt.map(v => fmt(v, 0)), 'Proton Number Density', 'Np(#/cc)');
  polyline(P, tGrid, densNp, '#00f', 2.5, 'density-line');
  frame(P);
}
{
  const yt = range(0, 0.5, 0.1);
  const P = tsPanel('proton-temperature-chart', 2974, [0, 0.5], yt, yt.map(v => fmt(v, 1)), 'Proton Temperature and Te/Tp', 'Tp(10\u2076K)', 52);
  polyline(P, tGrid, tempTp, '#00f', 2.5, 'tp-line');
  frame(P);
  tsLegend(P, 123, 2981, 70, [['Tp', '#00f']], 'tp-legend');
}
</script>
</body></html>
